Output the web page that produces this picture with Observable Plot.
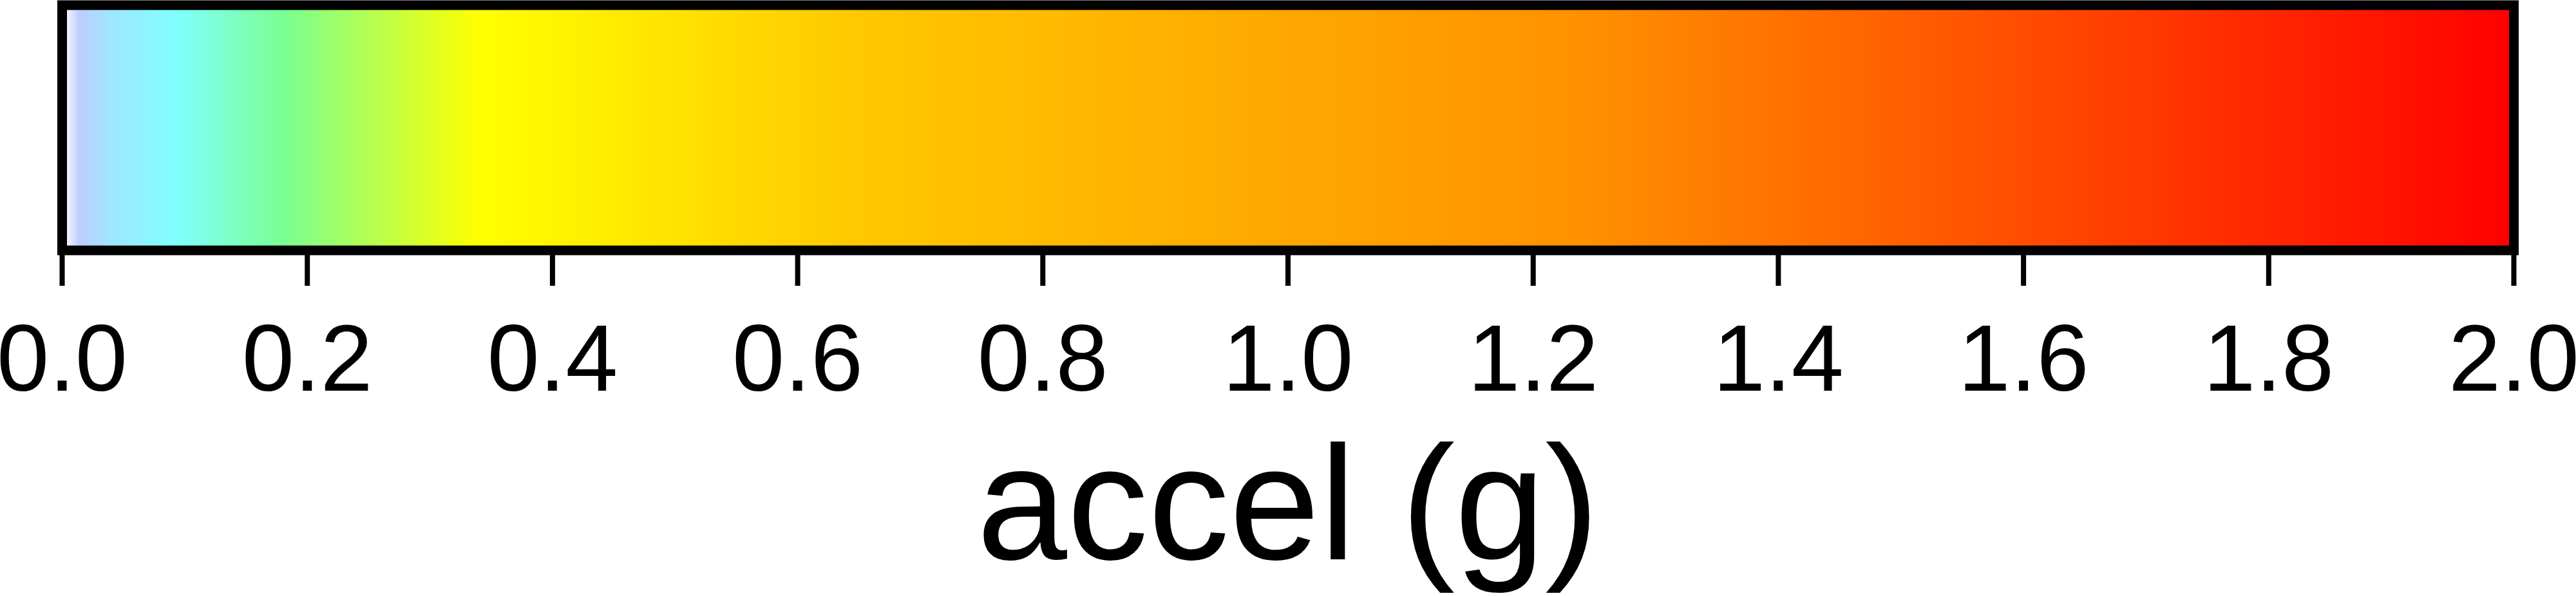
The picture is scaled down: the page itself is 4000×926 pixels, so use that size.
<!DOCTYPE html>
<html><head><meta charset="utf-8">
<script src="https://cdn.jsdelivr.net/npm/d3@7"></script>
<script src="https://cdn.jsdelivr.net/npm/@observablehq/plot@0.6"></script>
<style>
html,body{margin:0;padding:0;background:#fff}
svg{display:block}
</style>
</head><body><div id="chart"></div>
<script>
// Colour-map stops (accel in g) and their colours
const stops = [0, 0.0017, 0.014, 0.039, 0.092, 0.18, 0.34, 0.65, 1.24, 2.0];
const stopColors = ["#ffffff", "#ffffff", "#bfccff", "#a0e6ff", "#80ffff", "#7aff93", "#ffff00", "#ffc800", "#ff9100", "#ff0000"];
// Axis ticks and labels
const tickValues = [0, 0.2, 0.4, 0.6, 0.8, 1.0, 1.2, 1.4, 1.6, 1.8, 2.0];
const tickLabels = ["0.0", "0.2", "0.4", "0.6", "0.8", "1.0", "1.2", "1.4", "1.6", "1.8", "2.0"];
const axisTitle = "accel (g)";

const font = "'Liberation Sans', Arial, Helvetica, sans-serif";

const gradient = Plot.raster
  ? Plot.raster({x1: stops[0], x2: stops[stops.length - 1], y1: 0, y2: 1, fill: (x, y) => x, pixelSize: 1})
  : Plot.rectY(d3.range(0, 2, 0.001), {x1: d => d, x2: d => d + 0.001, y1: 0, y2: 1, fill: d => d});

const chart = Plot.plot({
  width: 4000,
  height: 926,
  marginLeft: 96,
  marginRight: 97,
  marginTop: 7.5,
  marginBottom: 537.5,
  style: {fontFamily: font, background: "#fff", color: "#000"},
  x: {domain: [stops[0], stops[stops.length - 1]]},
  y: {domain: [0, 1], axis: null},
  color: {type: "linear", domain: stops, range: stopColors, interpolate: "rgb"},
  marks: [
    gradient,
    Plot.frame({stroke: "#000", strokeWidth: 15}),
    Plot.axisX({
      ticks: tickValues,
      tickFormat: (d, i) => tickLabels[tickValues.indexOf(d)],
      tickSize: 55.5,
      tickPadding: 59,
      strokeWidth: 8,
      stroke: "#000",
      fill: "#000",
      fontSize: 146,
      label: null
    }),
    Plot.text([axisTitle], {
      frameAnchor: "bottom",
      lineAnchor: "top",
      dy: 301,
      fontSize: 252,
      fill: "#000",
      textAnchor: "middle"
    })
  ]
});
document.getElementById("chart").appendChild(chart);
</script>
</body></html>
